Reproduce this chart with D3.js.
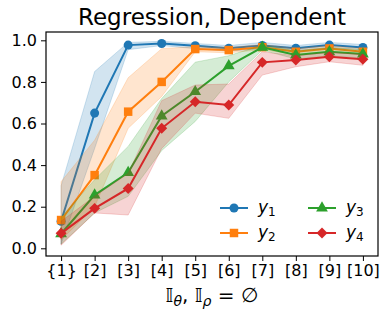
<!DOCTYPE html>
<html>
<head>
<meta charset="utf-8">
<script src="https://cdn.jsdelivr.net/npm/d3@7"></script>
<style>
  body { margin: 0; background: #fff; }
  text { font-family: "DejaVu Sans", sans-serif; fill: #000; }
</style>
</head>
<body>
<svg id="chart" width="389" height="320"></svg>
<script>
// tick labels along x
const categories = ['{1}', '[2]', '[3]', '[4]', '[5]', '[6]', '[7]', '[8]', '[9]', '[10]'];
const yTicks = [0.0, 0.2, 0.4, 0.6, 0.8, 1.0];

// series means
const y1 = [0.13, 0.65, 0.977, 0.985, 0.974, 0.962, 0.975, 0.962, 0.977, 0.966];
const y2 = [0.136, 0.352, 0.657, 0.80, 0.958, 0.953, 0.967, 0.945, 0.961, 0.945];
const y3 = [0.07, 0.256, 0.364, 0.636, 0.753, 0.877, 0.966, 0.929, 0.945, 0.934];
const y4 = [0.072, 0.192, 0.288, 0.577, 0.705, 0.689, 0.894, 0.905, 0.921, 0.909];

// shaded band limits
const y1Lo = [0.02, 0.48, 0.955, 0.975, 0.96, 0.948, 0.96, 0.95, 0.965, 0.955];
const y1Hi = [0.30, 0.85, 0.99, 0.995, 0.985, 0.975, 0.99, 0.975, 0.99, 0.98];
const y2Lo = [0.04, 0.20, 0.577, 0.73, 0.945, 0.94, 0.955, 0.93, 0.945, 0.93];
const y2Hi = [0.32, 0.52, 0.82, 0.96, 0.97, 0.965, 0.98, 0.96, 0.975, 0.96];
const y3Lo = [0.02, 0.17, 0.25, 0.47, 0.61, 0.80, 0.953, 0.91, 0.925, 0.915];
const y3Hi = [0.15, 0.33, 0.49, 0.72, 0.895, 0.926, 0.977, 0.95, 0.965, 0.955];
const y4Lo = [0.015, 0.17, 0.16, 0.48, 0.65, 0.625, 0.833, 0.873, 0.897, 0.88];
const y4Hi = [0.13, 0.25, 0.36, 0.71, 0.785, 0.79, 0.945, 0.926, 0.942, 0.933];

const series = [
  { sub: '1', mean: y1, lo: y1Lo, hi: y1Hi, color: '#1f77b4', symbol: d3.symbolCircle, size: 64, rot: 0 },
  { sub: '2', mean: y2, lo: y2Lo, hi: y2Hi, color: '#ff7f0e', symbol: d3.symbolSquare, size: 72, rot: 0 },
  { sub: '3', mean: y3, lo: y3Lo, hi: y3Hi, color: '#2ca02c', symbol: d3.symbolTriangle, size: 60, rot: 0 },
  { sub: '4', mean: y4, lo: y4Lo, hi: y4Hi, color: '#d62728', symbol: d3.symbolSquare, size: 60, rot: 45 },
];

const margin = { left: 46, right: 11, top: 32, bottom: 64 };
const width = 389, height = 320;

const svg = d3.select('#chart');

let x = d3.scaleLinear()
  .domain([-0.45, categories.length - 1 + 0.45])
  .range([margin.left, width - margin.right]);

let y = d3.scaleLinear()
  .domain([-0.037, 1.04])
  .range([height - margin.bottom, margin.top]);

const plot = svg.append('g');

series.forEach(s => {
  let area = d3.area()
    .x((d, i) => x(i))
    .y0((d, i) => y(s.lo[i]))
    .y1((d, i) => y(s.hi[i]));

  plot.append('path')
    .datum(s.mean)
    .attr('d', area)
    .attr('fill', s.color)
    .attr('fill-opacity', 0.2)
    .attr('stroke', s.color)
    .attr('stroke-opacity', 0.2)
    .attr('stroke-width', 1);

  let line = d3.line()
    .x((d, i) => x(i))
    .y(d => y(d));

  plot.append('path')
    .datum(s.mean)
    .attr('d', line)
    .attr('fill', 'none')
    .attr('stroke', s.color)
    .attr('stroke-width', 2);

  plot.selectAll(null)
    .data(s.mean)
    .join('path')
    .attr('d', d3.symbol().type(s.symbol).size(s.size))
    .attr('transform', (d, i) => `translate(${x(i)},${y(d)}) rotate(${s.rot})`)
    .attr('fill', s.color);
});

// axes
let xAxis = d3.axisBottom(x)
  .tickValues(d3.range(categories.length))
  .tickFormat(i => categories[i])
  .tickSize(5)
  .tickPadding(4);

let yAxis = d3.axisLeft(y)
  .tickValues(yTicks)
  .tickFormat(d3.format('.1f'))
  .tickSize(5)
  .tickPadding(4);

let gx = svg.append('g')
  .attr('transform', `translate(0,${height - margin.bottom})`)
  .call(xAxis);

let gy = svg.append('g')
  .attr('transform', `translate(${margin.left},0)`)
  .call(yAxis);

[gx, gy].forEach(g => {
  g.select('.domain').remove();
  g.selectAll('line').attr('stroke', '#000').attr('stroke-width', 1);
  g.selectAll('text')
    .style('font-family', '"DejaVu Sans", sans-serif')
    .style('font-size', '16px')
    .attr('fill', '#000');
});

// frame
svg.append('rect')
  .attr('x', margin.left)
  .attr('y', margin.top)
  .attr('width', width - margin.left - margin.right)
  .attr('height', height - margin.top - margin.bottom)
  .attr('fill', 'none')
  .attr('stroke', '#000')
  .attr('stroke-width', 1.2);

// title
svg.append('text')
  .attr('x', (margin.left + width - margin.right) / 2)
  .attr('y', 25)
  .attr('text-anchor', 'middle')
  .style('font-size', '23px')
  .text('Regression, Dependent');

// x label
let xl = svg.append('text')
  .attr('x', (margin.left + width - margin.right) / 2)
  .attr('y', 302)
  .attr('text-anchor', 'middle')
  .style('font-size', '20px');
xl.append('tspan').text('𝕀');
xl.append('tspan').attr('font-style', 'italic').attr('font-size', '14px').attr('dy', 4).text('θ');
xl.append('tspan').attr('dy', -4).text(',  𝕀');
xl.append('tspan').attr('font-style', 'italic').attr('font-size', '14px').attr('dy', 4).text('ρ');
xl.append('tspan').attr('dy', -4).text(' = ∅');

// legend, two columns
const legendPos = [[220, 208], [220, 233], [308, 208], [308, 233]];
let legend = svg.append('g');
series.forEach((s, i) => {
  let [lx, ly] = legendPos[i];
  let g = legend.append('g').attr('transform', `translate(${lx},${ly})`);
  g.append('line')
    .attr('x1', 0).attr('x2', 28)
    .attr('stroke', s.color)
    .attr('stroke-width', 2);
  g.append('path')
    .attr('d', d3.symbol().type(s.symbol).size(s.size))
    .attr('transform', `translate(14,0) rotate(${s.rot})`)
    .attr('fill', s.color);
  let t = g.append('text')
    .attr('x', 38)
    .attr('y', 5)
    .style('font-size', '17px');
  t.append('tspan').attr('font-style', 'italic').text('y');
  t.append('tspan').attr('font-size', '12px').attr('dy', 3).text(s.sub);
});
</script>
</body>
</html>
